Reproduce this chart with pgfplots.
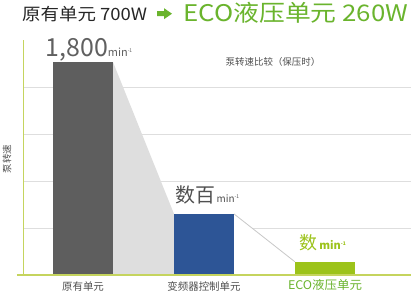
\documentclass[border=0pt]{standalone}
\usepackage{pgfplots}
\pgfplotsset{compat=1.18}
\usepackage{fontspec}
\usepackage{graphicx}
\setmainfont{Noto Sans CJK SC}
\definecolor{barA}{HTML}{5E5E5E}
\definecolor{barB}{HTML}{2D5596}
\definecolor{barC}{HTML}{9CC31A}
\definecolor{polyc}{HTML}{DEDEDE}
\definecolor{linec}{HTML}{C8C8C8}
\definecolor{greenT}{HTML}{6AB42D}
\definecolor{axisc}{HTML}{C5D45E}
\definecolor{gridc}{HTML}{DEDEDE}
\definecolor{numc}{HTML}{606060}
\definecolor{subc}{HTML}{505050}
\begin{document}
\begin{tikzpicture}
\path[use as bounding box] (0,0) rectangle (411bp,299bp);
\fill[white] (0,0) rectangle (411bp,299bp);
\begin{axis}[at={(23bp,24bp)}, anchor=south west, scale only axis,
  width=388bp, height=235bp,
  xmin=-0.496, xmax=2.711, ymin=0, ymax=5,
  axis line style={draw=none},
  xtick=\empty, ytick={1,2,3,4}, yticklabels={},
  major tick length=0pt,
  ymajorgrids, major grid style={draw=gridc, line width=0.8bp},
  clip=false]
\addplot[fill=polyc, draw=none] coordinates {(0.248,4.53) (0.752,1.30)} \closedcycle;
\addplot[fill=white, draw=none] coordinates {(1.248,1.30) (1.752,0.28)} \closedcycle;
\addplot[draw=linec, line width=0.8bp] coordinates {(1.248,1.30) (1.752,0.28)};
\addplot[ybar, bar shift=0pt, bar width=60bp, fill=barA, draw=none] coordinates {(0,4.53)};
\addplot[ybar, bar shift=0pt, bar width=60bp, fill=barB, draw=none] coordinates {(1,1.30)};
\addplot[ybar, bar shift=0pt, bar width=60bp, fill=barC, draw=none] coordinates {(2,0.28)};
\draw[axisc, line width=1bp] (rel axis cs:0,0) -- (rel axis cs:0,1);
\draw[axisc, line width=1.5bp] ([xshift=-6bp]rel axis cs:0,0) -- (rel axis cs:1,0);
\node[anchor=base west, inner sep=0, text=numc] at (axis cs:-0.31,4.64)
  {{\fontsize{25}{25}\selectfont 1,800}{\fontsize{11}{11}\selectfont min\raisebox{4bp}{\fontsize{5}{5}\selectfont -1}}};
\node[anchor=base west, inner sep=0, text=subc] at (axis cs:0.76,1.55)
  {{\fontsize{20}{20}\selectfont 数百}\,{\fontsize{10}{10}\selectfont min\raisebox{3.5bp}{\fontsize{5}{5}\selectfont -1}}};
\node[anchor=base west, inner sep=0, text=barC] at (axis cs:1.79,0.55)
  {{\fontsize{18}{18}\selectfont 数}\,{\fontsize{11}{11}\selectfont\bfseries min\raisebox{3.5bp}{\fontsize{5}{5}\selectfont -1}}};
\end{axis}
\node[anchor=base west, inner sep=0, text=black!85] at (22bp,278bp)
  {\resizebox{125bp}{\height}{\fontsize{17}{17}\selectfont 原有单元 700W}};
\fill[greenT] (157bp,282.8bp) -- (164bp,282.8bp) -- (164bp,279.8bp) -- (172bp,285.3bp) -- (164bp,290.8bp) -- (164bp,287.8bp) -- (157bp,287.8bp) -- cycle;
\node[anchor=base west, inner sep=0, text=greenT] at (183bp,277bp)
  {\resizebox{225bp}{\height}{\fontsize{23}{23}\selectfont ECO液压单元 260W}};
\node[anchor=base, inner sep=0, text=subc] at (273bp,233bp) {\fontsize{9.5}{9.5}\selectfont 泵转速比较（保压时）};
\node[rotate=90, inner sep=0, text=subc] at (7bp,140bp) {\fontsize{9.5}{9.5}\selectfont 泵转速};
\node[anchor=base, inner sep=0, text=subc] at (83bp,9bp) {\fontsize{10.5}{10.5}\selectfont 原有单元};
\node[anchor=base, inner sep=0, text=subc] at (204bp,9bp) {\fontsize{10.5}{10.5}\selectfont 变频器控制单元};
\node[anchor=base, inner sep=0, text=greenT] at (325bp,9bp) {\resizebox{74bp}{\height}{\fontsize{12}{12}\selectfont ECO液压单元}};
\end{tikzpicture}
\end{document}
